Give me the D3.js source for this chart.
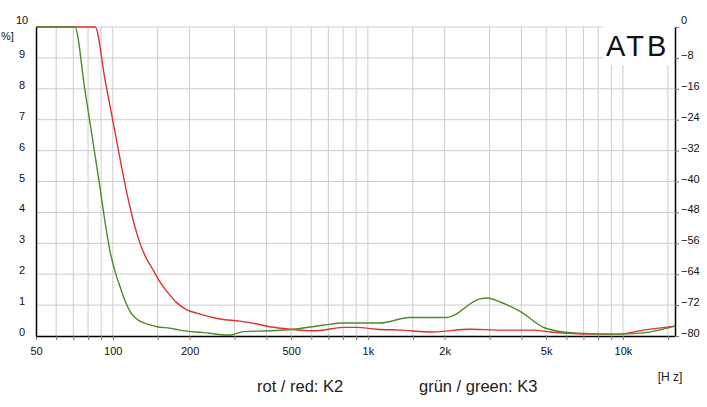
<!DOCTYPE html>
<html>
<head>
<meta charset="utf-8">
<script src="https://cdn.jsdelivr.net/npm/d3@7"></script>
<style>
    body { margin: 0; background: #fff; }
    svg { display: block; font-family: "Liberation Sans", Arial, sans-serif; }
</style>
</head>
<body>
<div id="chart"></div>
<script>
// K2 (red) distortion in %
const k2Freq = [50, 85.3, 93.2, 102, 108.7, 113.7, 118.9, 125.5, 133.7, 143.7, 153, 164.6, 178, 192, 220, 263, 315, 367, 413, 495, 630, 800, 900, 1080, 1340, 1800, 2500, 3300, 4400, 5200, 7400, 9500, 12000, 16000];
const k2Val  = [10, 10, 8.3, 6.6, 5.4, 4.6, 3.9, 3.2, 2.6, 2.15, 1.75, 1.4, 1.08, 0.88, 0.71, 0.55, 0.48, 0.39, 0.3, 0.22, 0.17, 0.28, 0.28, 0.22, 0.19, 0.13, 0.22, 0.19, 0.19, 0.13, 0.06, 0.06, 0.19, 0.32];

// K3 (green) distortion in %
const k3Freq = [50, 71, 77.8, 85.2, 89.1, 93.2, 97.5, 102, 106.7, 111.6, 116.8, 122.2, 127.8, 140, 149, 168, 183, 226, 288, 325, 413, 508, 667, 800, 1115, 1460, 2040, 2750, 2950, 3300, 3950, 4950, 6400, 9500, 12000, 16000];
const k3Val  = [10, 10, 7.95, 5.85, 4.8, 3.7, 2.75, 2.1, 1.6, 1.15, 0.8, 0.6, 0.48, 0.36, 0.3, 0.25, 0.19, 0.11, 0.03, 0.14, 0.17, 0.22, 0.35, 0.42, 0.42, 0.6, 0.6, 1.2, 1.23, 1.1, 0.8, 0.26, 0.1, 0.06, 0.1, 0.32];

const xLabelFreqs = [50, 100, 200, 500, 1000, 2000, 5000, 10000];
const xLabels = ["50", "100", "200", "500", "1k", "2k", "5k", "10k"];
const gridFreqs = [60, 70, 80, 90, 100, 150, 200, 300, 400, 500, 600, 700, 800, 900, 1000, 1500, 2000, 3000, 4000, 5000, 6000, 7000, 8000, 9000, 10000, 15000];
const leftTicks = [0, 1, 2, 3, 4, 5, 6, 7, 8, 9, 10];
const rightTicks = [0, -8, -16, -24, -32, -40, -48, -56, -64, -72, -80];

const w = 707;
const h = 407;
const plotL = 36, plotR = 675, plotT = 27, plotB = 336;

const svg = d3.select("#chart").append("svg").attr("width", w).attr("height", h);

const x = d3.scaleLog().domain([50, 16000]).range([plotL, plotR]);
const y = d3.scaleLinear().domain([0, 10]).range([plotB, plotT]);
const yR = d3.scaleLinear().domain([-80, 0]).range([plotB, plotT]);

// grid
svg.append("g")
    .selectAll("line")
    .data(gridFreqs)
    .enter()
    .append("line")
    .attr("x1", d => x(d)).attr("x2", d => x(d))
    .attr("y1", plotT).attr("y2", plotB)
    .style("stroke", "#cccccc");

svg.append("g")
    .selectAll("line")
    .data(leftTicks.slice(1))
    .enter()
    .append("line")
    .attr("x1", plotL).attr("x2", plotR)
    .attr("y1", d => y(d)).attr("y2", d => y(d))
    .style("stroke", "#cccccc");

// ATB box covers the grid
svg.append("rect")
    .attr("x", 603).attr("y", 20)
    .attr("width", 71).attr("height", 45)
    .style("fill", "#fff");
svg.append("text")
    .text("ATB")
    .attr("x", 606).attr("y", 56)
    .style("font-size", "29px")
    .style("letter-spacing", "3px")
    .style("fill", "#111");

// curves
const line = d3.line()
    .curve(d3.curveMonotoneX)
    .x(d => x(d[0]))
    .y(d => y(d[1]));

svg.append("path")
    .datum(k2Freq.map((f, i) => [f, k2Val[i]]))
    .attr("d", line)
    .style("fill", "none")
    .style("stroke", "#dd3333")
    .style("stroke-width", 1.4);

svg.append("path")
    .datum(k3Freq.map((f, i) => [f, k3Val[i]]))
    .attr("d", line)
    .style("fill", "none")
    .style("stroke", "#4f8a2a")
    .style("stroke-width", 1.4);

// axes
const xAxis = svg.append("g")
    .attr("transform", `translate(0,${plotB})`)
    .call(d3.axisBottom(x)
        .tickValues(gridFreqs.concat([50]))
        .tickSize(4)
        .tickSizeOuter(0)
        .tickPadding(7)
        .tickFormat(d => {
            const i = xLabelFreqs.indexOf(d);
            return i >= 0 ? xLabels[i] : "";
        }));

const leftAxis = svg.append("g")
    .attr("transform", `translate(${plotL},0)`)
    .call(d3.axisLeft(y).tickValues(leftTicks).tickSize(0).tickSizeOuter(0));

const rightAxis = svg.append("g")
    .attr("transform", `translate(${plotR},0)`)
    .call(d3.axisRight(yR).tickValues(rightTicks).tickSize(4).tickSizeOuter(0).tickPadding(2));

[xAxis, leftAxis, rightAxis].forEach(a => {
    a.select(".domain").style("stroke", "#000").style("stroke-width", 1.5);
    a.selectAll(".tick line").style("stroke", "#777");
    a.selectAll("text")
        .style("font-size", "11px")
        .style("font-family", "'Liberation Sans', Arial, sans-serif")
        .style("fill", "#111");
});

leftAxis.selectAll("text")
    .attr("text-anchor", "middle")
    .attr("x", -14)
    .attr("y", d => d === 10 ? -7 : -4);

rightAxis.selectAll("text")
    .attr("y", d => d === 0 ? -7 : -3);

svg.append("text")
    .text("%]")
    .attr("x", 1).attr("y", 40)
    .style("font-size", "11px")
    .style("fill", "#111");

svg.append("text")
    .text("[H z]")
    .attr("x", 670).attr("y", 381)
    .attr("text-anchor", "middle")
    .style("font-size", "12px")
    .style("fill", "#222");

svg.append("text")
    .text("rot / red: K2")
    .attr("x", 257).attr("y", 392)
    .style("font-size", "16.5px")
    .style("fill", "#222");

svg.append("text")
    .text("grün / green: K3")
    .attr("x", 419).attr("y", 392)
    .style("font-size", "16.5px")
    .style("fill", "#222");
</script>
</body>
</html>
